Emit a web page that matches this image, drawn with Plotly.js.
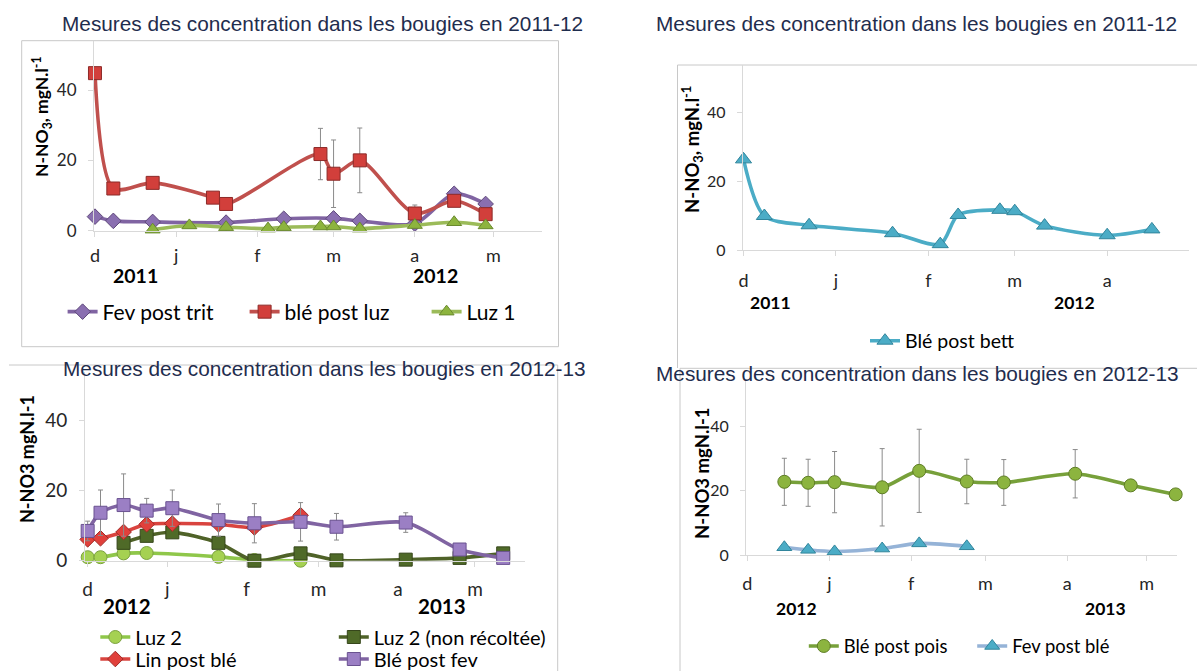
<!DOCTYPE html>
<html><head><meta charset="utf-8">
<script src="https://cdn.plot.ly/plotly-3.0.1.min.js"></script>
<style>html,body{margin:0;padding:0;background:#fff;}#chart{width:1197px;height:671px;}</style>
</head><body><div id="chart"></div>
<script>
// ---------- DATA ----------
// Panel 1 : 2011-12
const monthTicks1 = ['2011-12-01','2012-01-01','2012-02-01','2012-03-01','2012-04-01','2012-05-01'];
const monthText1 = ['d','j','f','m','a','m'];
const yearLabels1 = ['2011','2012'];
const fevTritDates = ['2011-12-01','2011-12-08','2011-12-23','2012-01-20','2012-02-11','2012-03-01','2012-03-11','2012-04-01','2012-04-16','2012-04-28'];
const fevTritVals  = [4.0, 2.8, 2.5, 2.3, 3.4, 3.5, 2.8, 2.0, 10.5, 7.6];
const bleLuzDates  = ['2011-12-01','2011-12-08','2011-12-23','2012-01-15','2012-01-20','2012-02-25','2012-03-01','2012-03-11','2012-04-01','2012-04-16','2012-04-28'];
const bleLuzVals   = [44.8, 12.0, 13.6, 9.4, 7.6, 21.8, 16.2, 20.0, 4.9, 8.5, 4.7];
const bleLuzErr    = [0, 0, 0, 0, 0, 7.3, 9.6, 9.2, 2.4, 0, 0];
const luz1Dates    = ['2011-12-23','2012-01-06','2012-01-20','2012-02-05','2012-02-11','2012-02-25','2012-03-01','2012-03-11','2012-04-01','2012-04-16','2012-04-28'];
const luz1Vals     = [0.3, 1.5, 1.0, 0.6, 1.0, 1.2, 1.2, 0.6, 1.6, 2.4, 1.5];

// Panel 2 : 2011-12
const monthTicks2 = ['2011-12-01','2012-01-01','2012-02-01','2012-03-01','2012-04-01'];
const monthText2 = ['d','j','f','m','a'];
const bleBettDates = ['2011-12-01','2011-12-08','2011-12-23','2012-01-20','2012-02-05','2012-02-11','2012-02-25','2012-03-01','2012-03-11','2012-04-01','2012-04-16'];
const bleBettVals  = [26.4, 9.9, 7.2, 4.9, 1.7, 10.2, 11.7, 11.3, 7.1, 4.3, 6.0];

// Panel 3 : 2012-13
const monthTicks3 = ['2012-12-01','2013-01-01','2013-02-01','2013-03-01','2013-04-01','2013-05-01'];
const monthText3 = ['d','j','f','m','a','m'];
const yearLabels3 = ['2012','2013'];
const luz2Dates = ['2012-12-01','2012-12-06','2012-12-15','2012-12-24','2013-01-21','2013-02-04','2013-02-22'];
const luz2Vals  = [1.0, 1.0, 2.1, 2.2, 1.1, 0.2, 0.0];
const luz2nrDates = ['2012-12-15','2012-12-24','2013-01-03','2013-01-21','2013-02-04','2013-02-22','2013-03-08','2013-04-04','2013-04-25','2013-05-12'];
const luz2nrVals  = [5.1, 7.1, 8.1, 5.1, 0.0, 2.1, 0.1, 0.3, 0.8, 2.1];
const linBleDates = ['2012-12-01','2012-12-06','2012-12-15','2012-12-24','2013-01-03','2013-01-21','2013-02-04','2013-02-22'];
const linBleVals  = [6.1, 6.4, 8.2, 10.4, 10.6, 10.4, 9.5, 13.0];
const bleFevDates = ['2012-12-01','2012-12-06','2012-12-15','2012-12-24','2013-01-03','2013-01-21','2013-02-04','2013-02-22','2013-03-08','2013-04-04','2013-04-25','2013-05-12'];
const bleFevVals  = [8.5, 13.7, 15.9, 14.3, 15.0, 11.6, 10.7, 11.1, 9.7, 10.9, 3.2, 0.8];
const bleFevErr   = [2.8, 6.5, 8.9, 3.5, 5.2, 4.6, 5.6, 5.5, 3.8, 2.8, 0, 0];

// Panel 4 : 2012-13
const blePoisDates = ['2012-12-15','2012-12-24','2013-01-03','2013-01-21','2013-02-04','2013-02-22','2013-03-08','2013-04-04','2013-04-25','2013-05-12'];
const blePoisVals  = [22.7, 22.4, 22.6, 21.0, 26.1, 22.8, 22.5, 25.2, 21.6, 18.8];
const blePoisErr   = [7.3, 7.3, 9.5, 12.0, 12.9, 6.9, 7.1, 7.5, 0, 0];
const fevBleDates  = ['2012-12-15','2012-12-24','2013-01-03','2013-01-21','2013-02-04','2013-02-22'];
const fevBleVals   = [2.4, 1.6, 1.1, 2.0, 3.6, 2.7];

const yTicks = [0, 20, 40];
const titleA = 'Mesures des concentration dans les bougies en 2011-12';
const titleB = 'Mesures des concentration dans les bougies en 2012-13';
const yTitleA = 'N-NO<sub>3</sub>, mgN.l<sup>-1</sup>';
const yTitleB = 'N-NO3 mgN.l-1';

// ---------- HELPERS ----------
const W = 1197, H = 671;
const fx = p => p / W;
const fy = p => 1 - p / H;
const AX = 'Lato, "Open Sans", sans-serif';
const TF = '"Liberation Sans", Arial, sans-serif';

function tr(name, x, y, ax, leg, lineColor, mColor, mEdge, symbol, size, err) {
  const t = {
    type: 'scatter', mode: 'lines+markers', name: name, x: x, y: y,
    xaxis: 'x' + ax, yaxis: 'y' + ax, legend: leg, cliponaxis: false,
    line: {color: lineColor, width: 3.6, shape: 'spline', smoothing: 0.8},
    marker: {symbol: symbol, size: size, color: mColor, line: {color: mEdge, width: 1}}
  };
  if (err) t.error_y = {type: 'data', array: err, visible: true, color: '#8a8a8a', thickness: 1, width: 2.5};
  return t;
}

const data = [
  tr('Fev post trit', fevTritDates, fevTritVals, '', 'legend', '#8064A2', '#8A6FB0', '#5F497A', 'diamond', 12),
  tr('blé post luz', bleLuzDates, bleLuzVals, '', 'legend', '#C0504D', '#D23F3B', '#8C2A28', 'square', 13, bleLuzErr),
  tr('Luz 1', luz1Dates, luz1Vals, '', 'legend', '#9BBB59', '#8DB43E', '#6A8A2E', 'triangle-up', 13),
  tr('Blé post bett', bleBettDates, bleBettVals, '2', 'legend2', '#4BACC6', '#4BACC6', '#31859C', 'triangle-up', 14),
  tr('Luz 2', luz2Dates, luz2Vals, '3', 'legend3', '#8FC74A', '#A5D152', '#7BA23F', 'circle', 13),
  tr('Luz 2 (non récoltée)', luz2nrDates, luz2nrVals, '3', 'legend3', '#4F6228', '#4F6A28', '#36461B', 'square', 13),
  tr('Lin post blé', linBleDates, linBleVals, '3', 'legend4', '#D9443F', '#E0403B', '#A02A27', 'diamond', 12),
  tr('Blé post fev', bleFevDates, bleFevVals, '3', 'legend4', '#8064A2', '#9B7FC4', '#6A5290', 'square', 13, bleFevErr),
  tr('Blé post pois', blePoisDates, blePoisVals, '4', 'legend5', '#77A03A', '#8CB43F', '#5E7D25', 'circle', 13, blePoisErr),
  tr('Fev post blé', fevBleDates, fevBleVals, '4', 'legend5', '#95B3D7', '#4BACC6', '#31859C', 'triangle-up', 13)
];

function xa(dom, range, ticks, text, anchor, fs, stand) {
  return {domain: [fx(dom[0]), fx(dom[1])], range: range, type: 'date', anchor: anchor,
    tickmode: 'array', tickvals: ticks, ticktext: text, showgrid: false, zeroline: false,
    showline: true, linecolor: '#D9D9D9', linewidth: 1, ticks: 'outside', ticklen: 5, tickcolor: '#D9D9D9',
    ticklabelstandoff: stand, tickfont: {family: AX, size: fs, color: '#262626'}, fixedrange: true};
}
function ya(domTop, domBot, anchor, fs) {
  return {domain: [fy(domBot), fy(domTop)], range: [0, 54], anchor: anchor,
    tickmode: 'array', tickvals: yTicks, showgrid: false, zeroline: false,
    showline: true, linecolor: '#D9D9D9', linewidth: 1, ticks: 'outside', ticklen: 5, tickcolor: '#D9D9D9',
    ticklabelstandoff: 8, tickfont: {family: AX, size: fs, color: '#262626'}, fixedrange: true};
}

function ann(text, x, y, font, extra) {
  return Object.assign({text: text, x: fx(x), y: fy(y), xref: 'paper', yref: 'paper',
    xanchor: 'center', yanchor: 'middle', showarrow: false, font: font}, extra || {});
}
const titleFont = {family: TF, size: 20.8, color: '#1F2D4E'};
const boldFont = s => ({family: AX, size: s, color: '#000', weight: 700});

const annotations = [
  ann(titleA, 322, 23.5, titleFont),
  ann(titleA, 916, 24, titleFont),
  ann(titleB, 324, 368.5, titleFont),
  ann(titleB, 917, 373.5, titleFont),
  ann('<b>' + yTitleA + '</b>', 42, 117, boldFont(17.5), {textangle: -90}),
  ann('<b>' + yTitleA + '</b>', 692, 150, boldFont(18.5), {textangle: -90}),
  ann('<b>' + yTitleB + '</b>', 27, 459, boldFont(18), {textangle: -90}),
  ann('<b>' + yTitleB + '</b>', 702, 473, boldFont(18.5), {textangle: -90}),
  ann('<b>' + yearLabels1[0] + '</b>', 135, 275, boldFont(19.5)),
  ann('<b>' + yearLabels1[1] + '</b>', 435, 275, boldFont(19.5)),
  ann('<b>' + yearLabels1[0] + '</b>', 770, 302.5, boldFont(17.5)),
  ann('<b>' + yearLabels1[1] + '</b>', 1074, 302.5, boldFont(17.5)),
  ann('<b>' + yearLabels3[0] + '</b>', 127, 606, boldFont(20.5)),
  ann('<b>' + yearLabels3[1] + '</b>', 442, 606, boldFont(20.5)),
  ann('<b>' + yearLabels3[0] + '</b>', 796, 608.5, boldFont(17.5)),
  ann('<b>' + yearLabels3[1] + '</b>', 1105, 608.5, boldFont(17.5))
];

function ln(x0, y0, x1, y1) {
  return {type: 'line', xref: 'paper', yref: 'paper', x0: fx(x0), y0: fy(y0), x1: fx(x1), y1: fy(y1),
    line: {color: '#C8C8C8', width: 1}, layer: 'below'};
}
const shapes = [
  ln(21.7, 40.7, 558.5, 40.7), ln(21.7, 40.7, 21.7, 346.7), ln(558.5, 40.7, 558.5, 346.7), ln(21.7, 346.7, 558.5, 346.7),
  ln(677.5, 65, 1197, 65), ln(677.5, 65, 677.5, 368),
  ln(9, 365, 557.7, 365), ln(557.7, 365, 557.7, 671),
  ln(680, 368.3, 1197, 368.3), ln(680, 368.3, 680, 671)
];

function leg(xMarker, yCenter, ew, fs) {
  return {orientation: 'h', x: fx(xMarker - 22), y: fy(yCenter), xanchor: 'left', yanchor: 'middle',
    xref: 'paper', yref: 'paper', entrywidth: ew, entrywidthmode: 'pixels',
    font: {family: AX, size: fs, color: '#000'},
    bgcolor: 'rgba(0,0,0,0)', borderwidth: 0, itemclick: false, itemdoubleclick: false};
}

const layout = {
  width: W, height: H, margin: {l: 0, r: 0, t: 0, b: 0, autoexpand: false},
  paper_bgcolor: '#fff', plot_bgcolor: 'rgba(0,0,0,0)', showlegend: true,
  xaxis:  xa([94, 542], ['2011-11-30 15:00', '2012-05-19 12:00'], monthTicks1, monthText1, 'y', 18, 4),
  yaxis:  ya(40.8, 230.7, 'x', 17),
  xaxis2: xa([742.7, 1189.4], ['2011-11-30 17:30', '2012-04-28 14:00'], monthTicks2, monthText2, 'y2', 18, 9),
  yaxis2: ya(64.6, 250, 'x2', 16),
  xaxis3: xa([85, 525], ['2012-11-29 23:00', '2013-05-20 12:00'], monthTicks3, monthText3, 'y3', 19, 6),
  yaxis3: ya(371.7, 560.7, 'x3', 19),
  xaxis4: xa([746, 1177], ['2012-11-30 12:00', '2013-05-12 12:00'], monthTicks3, monthText3, 'y4', 18, 7),
  yaxis4: ya(380.9, 555, 'x4', 16),
  legend:  leg(84.6, 312, 137, 21),
  legend2: leg(887, 341, 120, 19.5),
  legend3: leg(117.3, 637, 193.5, 20),
  legend4: leg(117.3, 659, 193.5, 20),
  legend5: leg(825.8, 646, 123.4, 18.4),
  annotations: annotations,
  shapes: shapes
};

Plotly.newPlot('chart', data, layout, {displayModeBar: false, staticPlot: true});
</script></body></html>
